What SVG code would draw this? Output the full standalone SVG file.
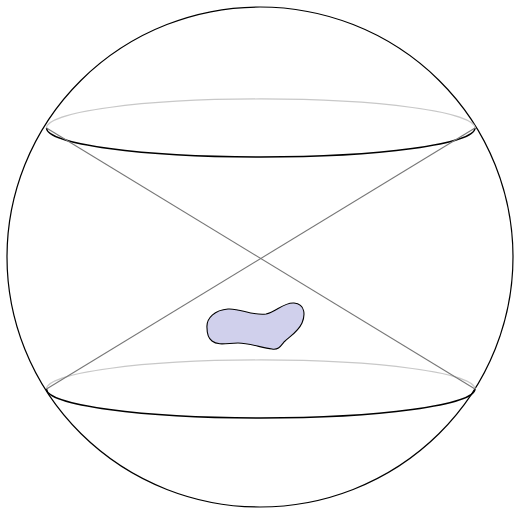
<svg xmlns="http://www.w3.org/2000/svg" width="514" height="508" viewBox="0 0 514 508">
<style>
.sphere{fill:none;stroke:#000;stroke-width:1.2}
.back{fill:none;stroke:#c8c8c8;stroke-width:1.2}
.front{fill:none;stroke:#000;stroke-width:1.4}
.diag{fill:none;stroke:#777;stroke-width:1.1}
.blob{fill:#d0d0ec;stroke:#000;stroke-width:1.1}
</style>
<rect width="514" height="508" fill="#fff"/>
<g id="sphere">
<ellipse class="sphere" cx="260" cy="257" rx="253" ry="250"/>
</g>
<g id="top-ring">
<path class="back" d="M46.5,128 A214,29 0 0 1 475,128"/>
<path class="front" d="M46.5,128 A214,29 0 0 0 475,128"/>
</g>
<g id="bottom-ring">
<path class="back" d="M46.5,389 A214,29 0 0 1 475,389"/>
<path class="front" d="M46.5,389 A214,29 0 0 0 475,389"/>
</g>
<g id="connectors">
<line class="diag" x1="46.5" y1="128" x2="475" y2="389"/>
<line class="diag" x1="475" y1="128" x2="46.5" y2="389"/>
</g>
<g id="blob">
<path class="blob" d="M207,328 C206,318 215,310 228,309 C240,308 252,316 266,314 C276,312 284,302 294,303 C306,304 305,316 302,323 C298,332 290,336 284,342 C280,347 278,350 272,349 C262,348 250,343 238,343 C228,343 218,346 212,341 C208,338 207,333 207,328 Z"/>
</g>
</svg>
